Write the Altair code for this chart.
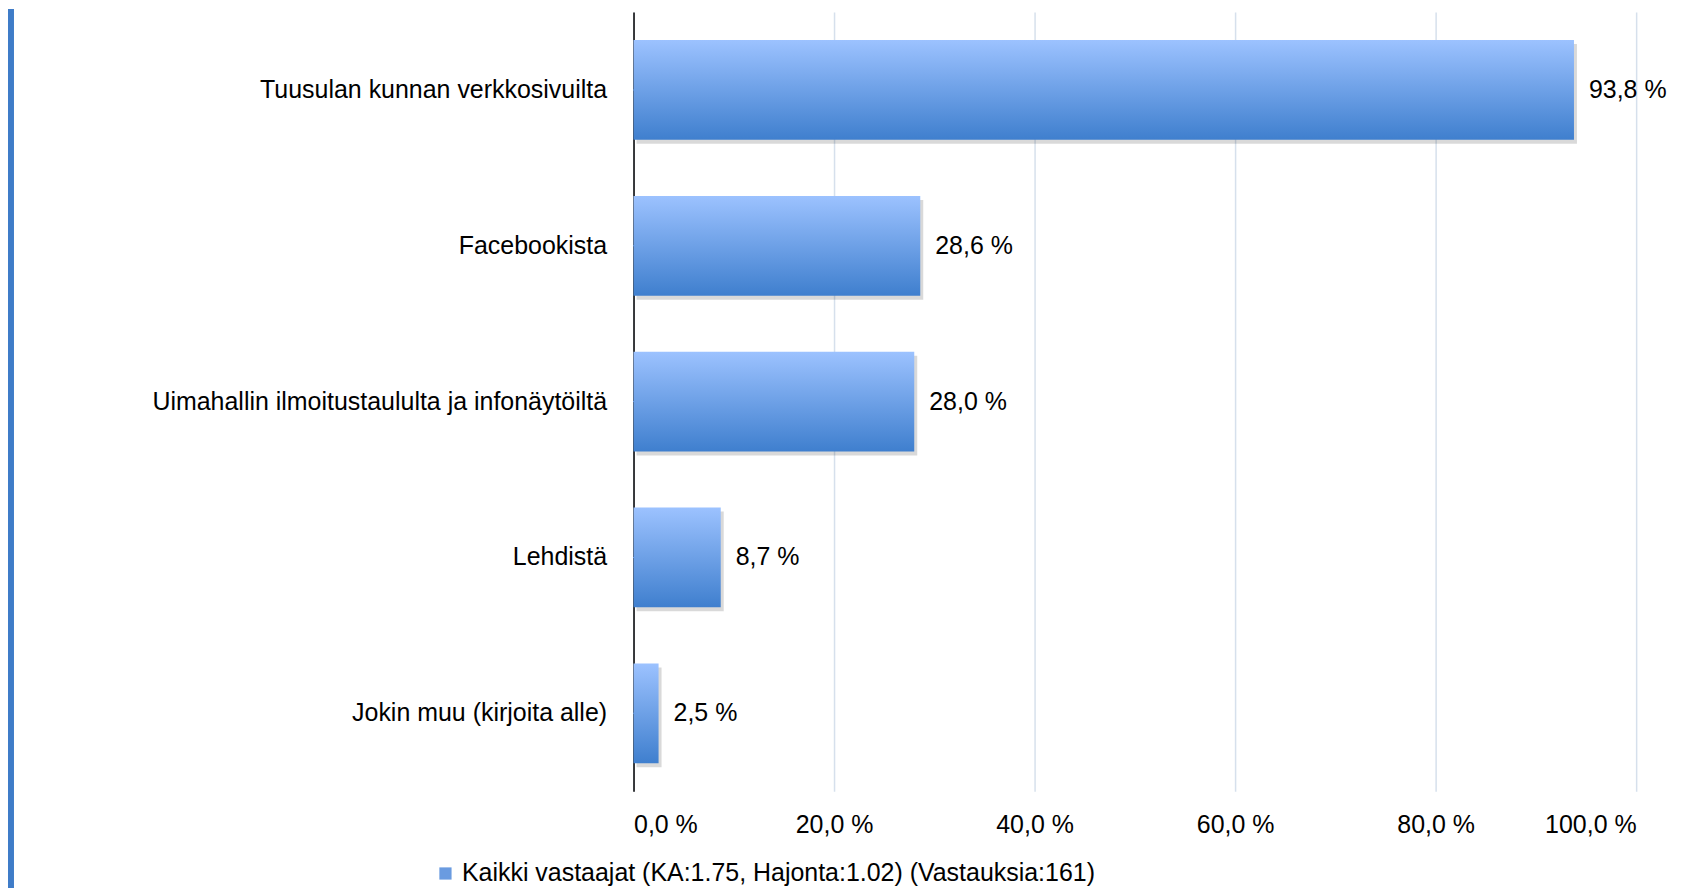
import altair as alt
import pandas as pd

categories = [
    "Tuusulan kunnan verkkosivuilta",
    "Facebookista",
    "Uimahallin ilmoitustaululta ja infonäytöiltä",
    "Lehdistä",
    "Jokin muu (kirjoita alle)",
]
values = [93.8, 28.6, 28.0, 8.7, 2.5]
series_name = "Kaikki vastaajat (KA:1.75, Hajonta:1.02) (Vastauksia:161)"
x_ticks = [0, 20, 40, 60, 80, 100]

df = pd.DataFrame({
    "category": categories,
    "value": values,
    "series": [series_name] * len(categories),
    "label": [f"{v:.1f}".replace(".", ",") + " %" for v in values],
})

FONT = "Liberation Sans"
FS = 25

grad = alt.Gradient(
    gradient="linear", x1=0, x2=0, y1=0, y2=1,
    stops=[alt.GradientStop(color="#9CC2FF", offset=0),
           alt.GradientStop(color="#3F7FCE", offset=1)],
)

xscale = alt.Scale(domain=[0, 100], nice=False)
yscale = alt.Scale(domain=categories, paddingInner=0.36, paddingOuter=0.18)

x_enc = alt.X(
    "value:Q", scale=xscale, title=None,
    axis=alt.Axis(
        values=x_ticks, domain=False, ticks=False, grid=True,
        gridColor="#D6E0EC", gridWidth=1.5,
        labelExpr="replace(format(datum.value, '.1f'), '.', ',') + ' %'",
        labelFont=FONT, labelFontSize=FS, labelColor="#000000",
        labelPadding=21,
    ),
)
y_enc = alt.Y(
    "category:N", sort=categories, scale=yscale, title=None,
    axis=alt.Axis(
        domain=True, domainColor="#000000", domainWidth=1.5,
        ticks=False, grid=False, labelFont=FONT, labelFontSize=FS,
        labelColor="#000000", labelPadding=27, labelLimit=0,
    ),
)

base = alt.Chart(df)

shadow = base.mark_bar(color="#000000", opacity=0.15, xOffset=3, yOffset=4).encode(
    x=x_enc, y=y_enc
)
bars = base.mark_bar().encode(x=x_enc, y=y_enc, fill=alt.value(grad))
labels = base.mark_text(
    align="left", baseline="middle", dx=15, font=FONT, fontSize=FS, color="#000000"
).encode(x=x_enc, y=y_enc, text="label:N")

legend_layer = base.mark_square(size=1, opacity=1).encode(
    x=alt.X("zero:Q", scale=xscale),
    y=y_enc,
    color=alt.Color(
        "series:N",
        scale=alt.Scale(domain=[series_name], range=["#6A9BE0"]),
        legend=alt.Legend(
            title=None, orient="none", legendX=-201, legendY=851,
            symbolType="square", symbolSize=150, symbolStrokeWidth=0,
            labelFont=FONT, labelFontSize=FS, labelColor="#000000",
            labelLimit=0, labelOffset=4, padding=0,
        ),
    ),
).transform_calculate(zero="0")

strip = alt.Chart(pd.DataFrame({"d": [0]})).mark_rect(color="#3F7CC8").encode(
    x=alt.value(-627), x2=alt.value(-621), y=alt.value(-3), y2=alt.value(880)
)

chart = alt.layer(strip, shadow, bars, labels, legend_layer).properties(
    width=1005, height=781,
    autosize=alt.AutoSizeParams(type="none"),
    padding={"left": 627, "top": 3, "right": 58, "bottom": 96},
    background="#FFFFFF",
).configure_view(stroke=None)

chart.save("out.html", embed_options={"renderer": "svg", "actions": False})
